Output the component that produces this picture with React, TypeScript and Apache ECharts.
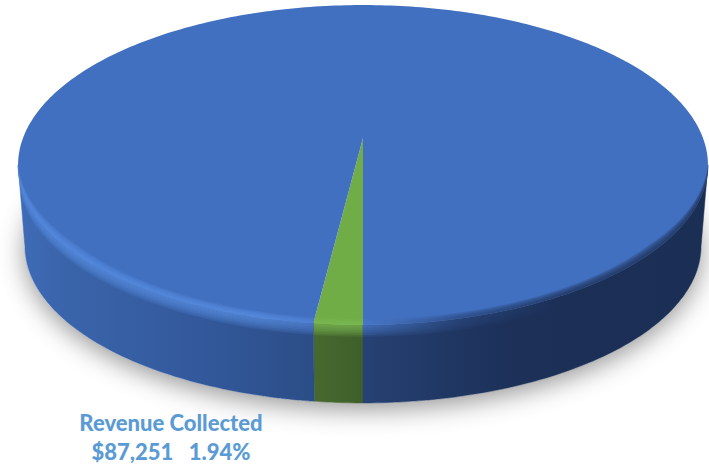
import React, { useEffect, useRef } from "react";
import * as echarts from "echarts";

const sliceNames = ["Revenue Collected", "Other Revenue"];
const sliceValues = [87251, 4410223];
const labelLines = ["Revenue Collected", "$87,251   1.94%"];

// projection of the disc
const CX = 363, APEX_Y = 138, A = 340, B = 155.4, P = 0.16875;
const H_ANGLE = 80.3; // silhouette angle measured from the front of the disc
const DEPTH_SCALE = 0.98, DEPTH_SHIFT = 84.5;

const total = sliceValues.reduce((a, b) => a + b, 0);

const rim = (deg: number, r = 1): [number, number] => {
  const t = (deg * Math.PI) / 180;
  const u = -Math.sin(t) * r, v = Math.cos(t) * r, w = 1 - P * v;
  return [CX + (A * u) / w, APEX_Y + (B * v) / w];
};
const wallPt = (deg: number, f: number): [number, number] => {
  const [x, y] = rim(deg);
  const bx = CX + (x - CX) * DEPTH_SCALE, by = y * DEPTH_SCALE + DEPTH_SHIFT;
  return [x + (bx - x) * f, y + (by - y) * f];
};
const arc = (a: number, b: number, fn: (d: number) => [number, number]) => {
  const pts: [number, number][] = [];
  const n = Math.max(2, Math.ceil(Math.abs(b - a)));
  for (let i = 0; i <= n; i++) pts.push(fn(a + ((b - a) * i) / n));
  return pts;
};
const taper = (deg: number) => {
  const d = Math.abs(deg > 180 ? deg - 360 : deg);
  return Math.min(1, Math.max(0, (H_ANGLE - d) / 30));
};
const hGrad = (stops: [number, string][]) => ({
  type: "linear", x: 18, y: 0, x2: 708, y2: 0, global: true,
  colorStops: stops.map(([offset, color]) => ({ offset, color })),
});

const palettes = [
  {
    face: "#70AD47",
    wall: hGrad([[0, "#4d7532"], [0.43, "#47692f"], [0.5, "#3f5f2a"], [1, "#2c441c"]]),
    light: (a: number) => hGrad([[0, `rgba(122,184,82,${a})`], [1, `rgba(122,184,82,${a})`]]),
  },
  {
    face: "#4270C0",
    wall: hGrad([[0, "#3f6cb8"], [0.07, "#3a64aa"], [0.28, "#32589a"], [0.42, "#2c4e88"], [0.52, "#253f70"], [0.72, "#1c3058"], [1, "#1b2e54"]]),
    light: (a: number) => hGrad([
      [0, `rgba(86,140,226,${a})`], [0.35, `rgba(88,142,226,${a})`], [0.5, `rgba(74,122,205,${a})`],
      [0.64, `rgba(40,70,125,${a})`], [0.8, `rgba(27,46,84,${a})`], [1, `rgba(27,46,84,${a})`],
    ]),
  },
];

const renderItem = (params: any, api: any) => {
  const i = params.dataIndex;
  const before = sliceValues.slice(0, i).reduce((a, b) => a + b, 0);
  const start = (before / total) * 360;
  const end = start + (api.value(0) / total) * 360;
  const pal = palettes[i];
  const children: any[] = [];

  if (i === 0) {
    // soft drop shadow of the whole disc
    children.push({
      type: "polygon",
      shape: { points: arc(0, 360, (d) => wallPt(d, 1)) },
      style: { fill: "#ffffff", shadowBlur: 26, shadowColor: "rgba(0,0,0,0.42)", shadowOffsetX: 0, shadowOffsetY: 6 },
    });
  }

  const ranges: [number, number][] = [];
  const addRange = (a: number, b: number) => {
    const lo = Math.max(a, start), hi = Math.min(b, end);
    if (hi > lo) ranges.push([lo, hi]);
  };
  addRange(0, H_ANGLE);
  addRange(360 - H_ANGLE, 360);

  ranges.forEach(([a, b]) => {
    children.push({
      type: "polygon",
      shape: { points: [...arc(a, b, (d) => wallPt(d, 0)), ...arc(b, a, (d) => wallPt(d, 1))] },
      style: { fill: pal.wall, stroke: pal.wall, lineWidth: 0.5 },
    });
    // fade from lit rim into the wall
    const steps = 7;
    for (let s = 0; s < steps; s++) {
      const f = (s + 1) / steps;
      children.push({
        type: "polygon",
        shape: { points: [...arc(a, b, (d) => wallPt(d, 0)), ...arc(b, a, (d) => wallPt(d, f * 0.15))] },
        style: { fill: pal.light(0.17) },
      });
    }
  });

  // top face
  children.push({
    type: "polygon",
    shape: { points: [[CX, APEX_Y], ...arc(start, end, (d) => rim(d))] },
    style: { fill: pal.face },
  });

  // bevel on the front of the top face, narrowing towards the silhouette
  ranges.forEach(([a, b]) => {
    const steps = 6;
    for (let s = 0; s < steps; s++) {
      const w = 0.003 + 0.024 * ((s + 1) / steps);
      children.push({
        type: "polygon",
        shape: { points: [...arc(a, b, (d) => rim(d, 1)), ...arc(b, a, (d) => rim(d, 1 - w * taper(d)))] },
        style: { fill: pal.light(0.2) },
      });
    }
  });

  return { type: "group", children };
};

export default function App() {
  const ref = useRef<HTMLDivElement>(null);
  useEffect(() => {
    const chart = echarts.init(ref.current!, undefined, { renderer: "svg" });
    chart.setOption({
      animation: false,
      backgroundColor: "#ffffff",
      series: [
        {
          type: "custom",
          coordinateSystem: "none",
          silent: true,
          renderItem,
          data: sliceValues.map((value, k) => ({ name: sliceNames[k], value })),
        },
      ],
      graphic: labelLines.map((text, k) => ({
        type: "text",
        z: 10,
        x: 171,
        y: 422 + k * 29,
        style: {
          text,
          fill: "#5B9BD5",
          font: '900 22px Lato, "Open Sans", sans-serif',
          align: "center",
          verticalAlign: "middle",
        },
      })),
    });
    return () => chart.dispose();
  }, []);
  return <div ref={ref} style={{ position: "fixed", left: 0, top: 0, width: 709, height: 465 }} />;
}
